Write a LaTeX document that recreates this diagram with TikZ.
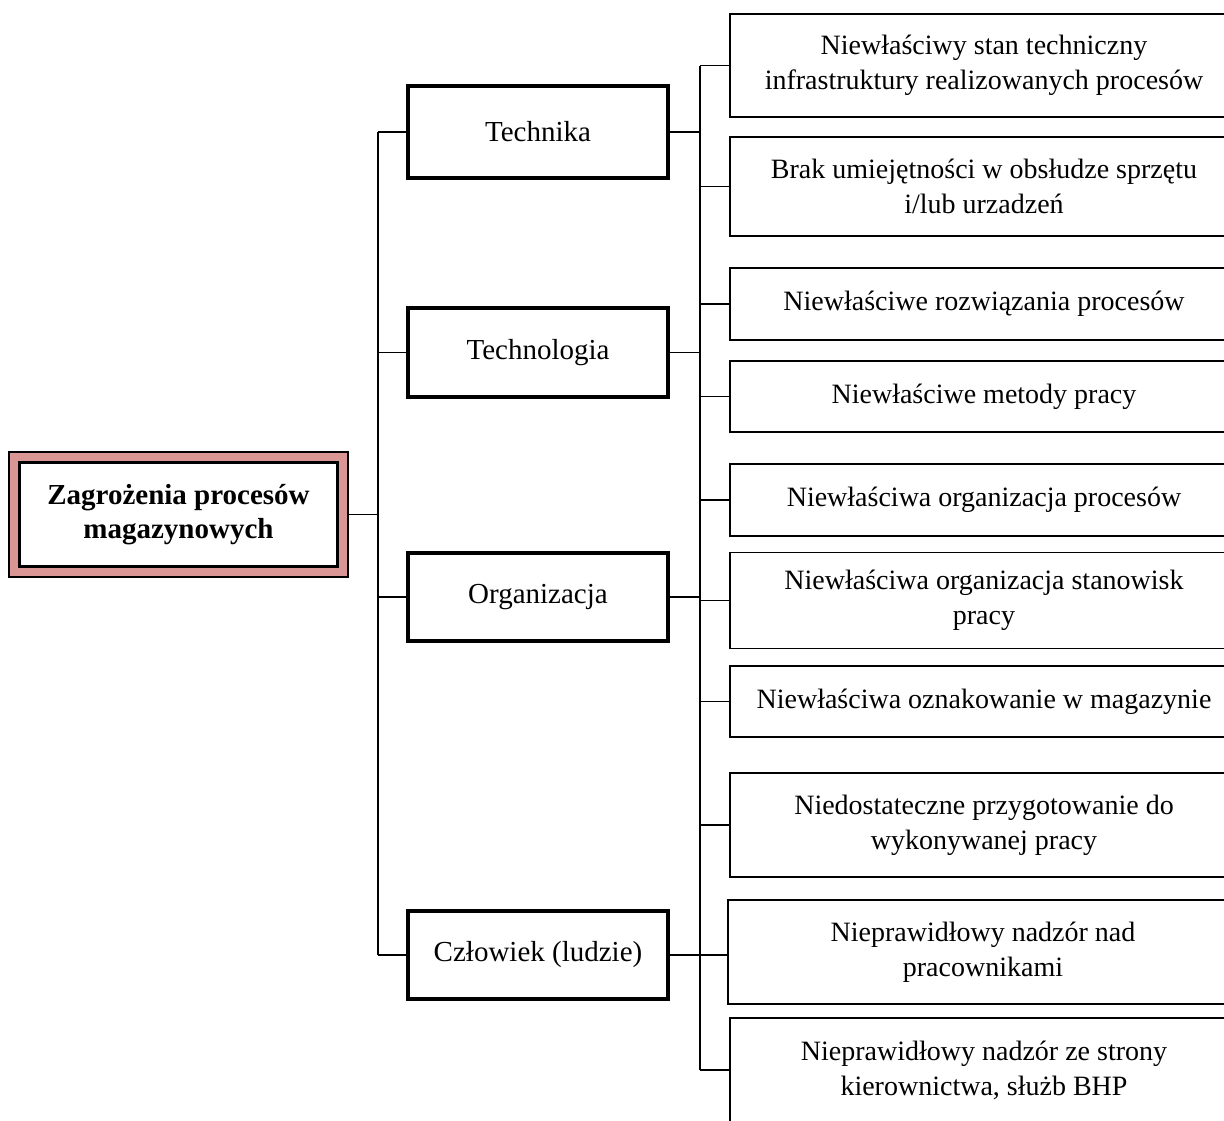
\documentclass[tikz,border=0pt]{standalone}
\usepackage{fontspec}
\setmainfont{Liberation Serif}
\usetikzlibrary{positioning}
\definecolor{rootpink}{RGB}{217,150,148}

\begin{document}
\begin{tikzpicture}[x=1pt,y=-1pt,
  cause/.style={draw,line width=1.5pt,align=center,inner sep=0pt,minimum width=508pt,font=\fontsize{28}{35}\selectfont},
  area/.style={draw,line width=3.5pt,align=center,inner sep=0pt,minimum width=260pt,minimum height=89pt,font=\fontsize{29}{35}\selectfont},
  conn/.style={line width=1.5pt}]
\useasboundingbox (0,0) rectangle (1224,1120);
\clip (0,0) rectangle (1224,1120);

% root box
\node[draw,line width=1.5pt,fill=rootpink,minimum width=339pt,minimum height=125pt] (root) at (178.5,514.5) {};
\node[draw,line width=2.5pt,fill=white,minimum width=318pt,minimum height=104pt,align=center,inner sep=0pt,font=\bfseries\fontsize{29}{34}\selectfont] (rootin) at (root.center) {Zagrożenia procesów\\magazynowych};

% areas
\node[area,minimum height=92pt] (tech) at (538,132) {Technika};
\node[area] (tgy) at (538,352.5) {Technologia};
\node[area,minimum height=88pt] (org) at (538,597) {Organizacja};
\node[area,minimum height=88pt] (czl) at (538,955) {Człowiek (ludzie)};

% causes
\node[cause,minimum height=103pt] (r1) at (984,65.5) {Niewłaściwy stan techniczny\\infrastruktury realizowanych procesów};
\node[cause,minimum height=99pt] (r2) at (984,186.5) {Brak umiejętności w obsłudze sprzętu\\i/lub urzadzeń};
\node[cause,minimum height=72pt] (r3) at (984,304) {Niewłaściwe rozwiązania procesów};
\node[cause,minimum height=71pt] (r4) at (984,396.5) {Niewłaściwe metody pracy};
\node[cause,minimum height=72pt] (r5) at (984,500) {Niewłaściwa organizacja procesów};
\node[cause,minimum height=96pt] (r6) at (984,600.5) {Niewłaściwa organizacja stanowisk\\pracy};
\node[cause,minimum height=71pt] (r7) at (984,701.5) {Niewłaściwa oznakowanie w magazynie};
\node[cause,minimum height=104pt] (r8) at (984,825) {Niedostateczne przygotowanie do\\wykonywanej pracy};
\node[cause,minimum height=104pt,minimum width=510pt] (r9) at (983,952) {Nieprawidłowy nadzór nad\\pracownikami};
\node[cause,minimum height=104pt] (r10) at (984,1070) {Nieprawidłowy nadzór ze strony\\kierownictwa, służb BHP};

% trunks
\coordinate (lt) at (378,0);
\coordinate (rt) at (700,0);
\draw[conn] (root.east) -- (root.east -| lt);
\draw[conn] (tech.west -| lt) -- (czl.west -| lt);
\foreach \n in {tech,tgy,org,czl}
  \draw[conn] (\n.west) -- (\n.west -| lt);
\draw[conn] (r1.west -| rt) -- (r10.west -| rt);
\foreach \n in {r1,r2,r3,r4,r5,r6,r7,r8,r10}
  \draw[conn] (\n.west) -- (\n.west -| rt);
\foreach \n in {tech,tgy,org}
  \draw[conn] (\n.east) -- (\n.east -| rt);
\draw[conn] (czl.east) -- (czl.east -| r9.west);

\end{tikzpicture}
\end{document}
